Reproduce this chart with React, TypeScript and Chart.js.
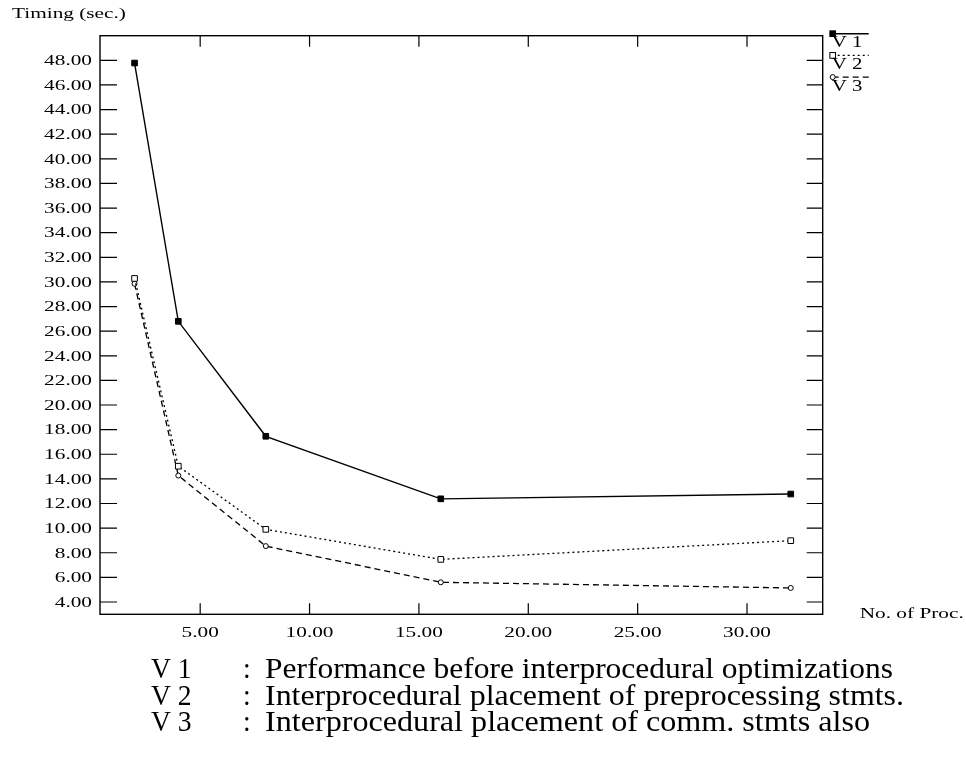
import { useEffect, useRef } from "react";
import { Chart, registerables } from "chart.js";
Chart.register(...registerables);

const procs = [2, 4, 8, 16, 32];
const v1 = [47.78, 26.8, 17.46, 12.38, 12.77];
const v2 = [30.28, 15.03, 9.9, 7.46, 8.98];
const v3 = [29.85, 14.27, 8.54, 5.6, 5.14];
const seriesNames = ["V 1", "V 2", "V 3"];
const xTicks = [5, 10, 15, 20, 25, 30];
const yTicks = [4, 6, 8, 10, 12, 14, 16, 18, 20, 22, 24, 26, 28, 30, 32, 34, 36, 38, 40, 42, 44, 46, 48];
const yTitle = "Timing (sec.)";
const xTitle = "No. of Proc.";
const captionKeys = ["V 1", "V 2", "V 3"];
const captionTexts = [
  "Performance before interprocedural optimizations",
  "Interprocedural placement of preprocessing stmts.",
  "Interprocedural placement of comm. stmts also",
];

const W = 966;
const H = 759;
const SX = 1.52;
const SMALL_FONT = "14px 'Liberation Serif'";
const LEG_FONT = "16px 'Liberation Serif'";
const CAP_FONT = "30px 'Liberation Serif'";
const CAP_ENDS = [893, 904, 870];

function sText(ctx: CanvasRenderingContext2D, text: string, x: number, y: number, align: CanvasTextAlign, sx: number) {
  ctx.save();
  ctx.translate(x, y);
  ctx.scale(sx, 1);
  ctx.textAlign = align;
  ctx.textBaseline = "alphabetic";
  ctx.fillText(text, 0, 0);
  ctx.restore();
}

const framePlugin = {
  id: "frame",
  beforeDatasetsDraw(chart: any) {
    const ctx: CanvasRenderingContext2D = chart.ctx;
    const a = chart.chartArea;
    const xs = chart.scales.x;
    const ys = chart.scales.y;
    ctx.save();
    ctx.strokeStyle = "#000";
    ctx.lineWidth = 1.4;
    ctx.setLineDash([]);
    ctx.strokeRect(a.left, a.top, a.right - a.left, a.bottom - a.top);
    ctx.lineWidth = 1.2;
    ctx.beginPath();
    for (const v of yTicks) {
      const py = ys.getPixelForValue(v);
      ctx.moveTo(a.left, py);
      ctx.lineTo(a.left + 17, py);
      ctx.moveTo(a.right - 16, py);
      ctx.lineTo(a.right, py);
    }
    for (const v of xTicks) {
      const px = xs.getPixelForValue(v);
      ctx.moveTo(px, a.bottom);
      ctx.lineTo(px, a.bottom - 11);
      ctx.moveTo(px, a.top);
      ctx.lineTo(px, a.top + 11);
    }
    ctx.stroke();
    ctx.fillStyle = "#000";
    ctx.strokeStyle = "#000";
    ctx.font = SMALL_FONT;
    for (const v of yTicks) {
      const py = ys.getPixelForValue(v);
      sText(ctx, v.toFixed(2), a.left - 8, py + 4.8, "right", SX);
    }
    for (const v of xTicks) {
      const px = xs.getPixelForValue(v);
      sText(ctx, v.toFixed(2), px, a.bottom + 22.5, "center", SX);
    }
    sText(ctx, yTitle, 12, 18, "left", SX);
    sText(ctx, xTitle, a.right + 37, a.bottom + 4, "left", SX);
    ctx.restore();
  },
  afterDraw(chart: any) {
    const ctx: CanvasRenderingContext2D = chart.ctx;
    const a = chart.chartArea;
    ctx.save();
    // legend
    const ds = chart.data.datasets;
    for (let i = 0; i < ds.length; i++) {
      const d = ds[i];
      const ly = 33.7 + i * 21.7;
      const lx = a.right + 10;
      ctx.strokeStyle = "#000";
      ctx.lineWidth = d.borderWidth;
      ctx.setLineDash(d.borderDash || []);
      ctx.beginPath();
      ctx.moveTo(lx, ly);
      ctx.lineTo(lx + 36, ly);
      ctx.stroke();
      ctx.setLineDash([]);
      ctx.lineWidth = 1;
      ctx.fillStyle = d.pointBackgroundColor;
      ctx.strokeStyle = "#000";
      if (d.pointStyle === "rect") {
        const s = d.pointRadius * Math.SQRT1_2;
        ctx.fillRect(lx - s, ly - s, 2 * s, 2 * s);
        ctx.strokeRect(lx - s, ly - s, 2 * s, 2 * s);
      } else {
        ctx.beginPath();
        ctx.arc(lx, ly, d.pointRadius, 0, Math.PI * 2);
        ctx.fill();
        ctx.stroke();
      }
      ctx.fillStyle = "#000";
      ctx.font = LEG_FONT;
      sText(ctx, seriesNames[i], lx - 1, ly + 13.5, "left", 1.3);
    }
    // caption
    ctx.font = CAP_FONT;
    ctx.fillStyle = "#000";
    const keySx = 0.92;
    for (let i = 0; i < captionTexts.length; i++) {
      const by = 678 + i * 26.5;
      const m = ctx.measureText(captionTexts[i]).width;
      const csx = (CAP_ENDS[i] - 265) / m;
      sText(ctx, captionKeys[i], 151, by, "left", keySx);
      sText(ctx, ":", 243, by, "left", keySx);
      sText(ctx, captionTexts[i], 265, by, "left", csx);
    }
    ctx.restore();
  },
};

export default function App() {
  const ref = useRef<HTMLCanvasElement | null>(null);
  useEffect(() => {
    if (!ref.current) return;
    const mk = (vals: number[]) => procs.map((x, i) => ({ x, y: vals[i] }));
    const chart = new Chart(ref.current, {
      type: "line",
      data: {
        datasets: [
          {
            label: seriesNames[0],
            data: mk(v1),
            borderColor: "#000",
            borderWidth: 1.4,
            borderDash: [],
            pointStyle: "rect",
            pointRadius: 4,
            pointBackgroundColor: "#000",
            pointBorderColor: "#000",
            pointBorderWidth: 1,
          },
          {
            label: seriesNames[1],
            data: mk(v2),
            borderColor: "#000",
            borderWidth: 1.3,
            borderDash: [2, 3],
            pointStyle: "rect",
            pointRadius: 4,
            pointBackgroundColor: "#fff",
            pointBorderColor: "#000",
            pointBorderWidth: 1,
          },
          {
            label: seriesNames[2],
            data: mk(v3),
            borderColor: "#000",
            borderWidth: 1.3,
            borderDash: [6, 4],
            pointStyle: "circle",
            pointRadius: 2.5,
            pointBackgroundColor: "#fff",
            pointBorderColor: "#000",
            pointBorderWidth: 1,
          },
        ] as any,
      },
      options: {
        animation: false,
        responsive: false,
        devicePixelRatio: 1,
        layout: { padding: { left: 100, top: 35.7, right: W - 822.7, bottom: H - 614.3 } },
        plugins: { legend: { display: false }, tooltip: { enabled: false } },
        scales: {
          x: { type: "linear", min: 0.42, max: 33.46, display: false },
          y: { type: "linear", min: 3, max: 50, display: false },
        },
        elements: { line: { tension: 0 } },
      } as any,
      plugins: [framePlugin],
    });
    return () => chart.destroy();
  }, []);
  return (
    <div style={{ position: "absolute", left: 0, top: 0, width: W, height: H, background: "#fff" }}>
      <canvas ref={ref} width={W} height={H} style={{ display: "block", width: W, height: H }} />
    </div>
  );
}
